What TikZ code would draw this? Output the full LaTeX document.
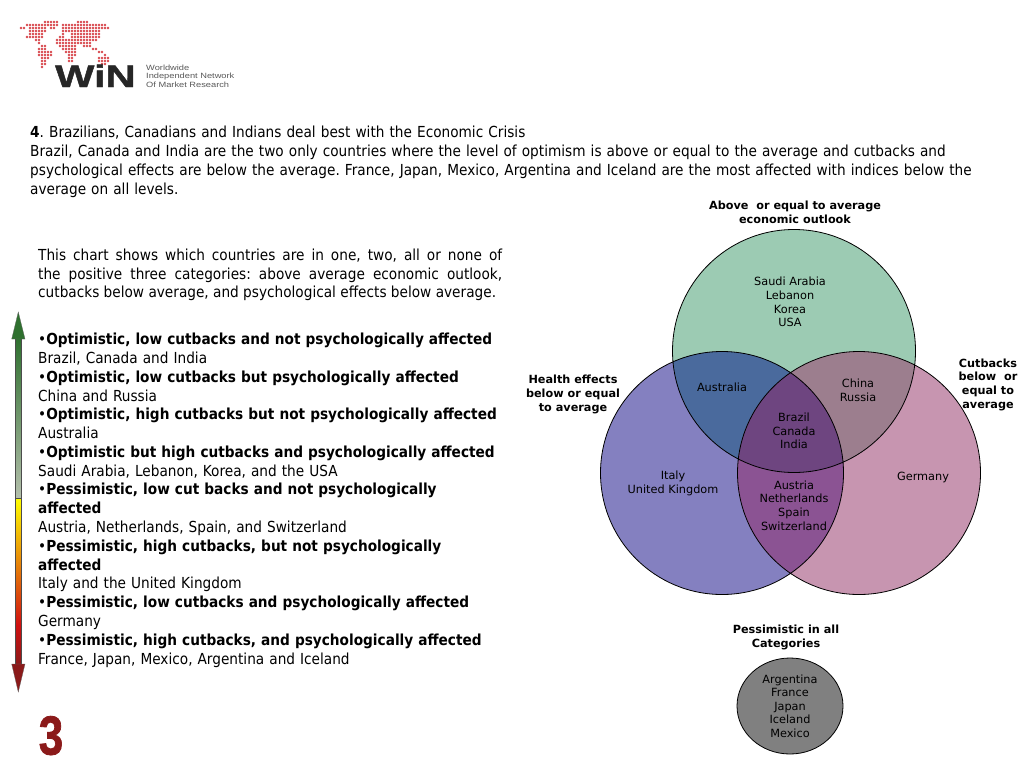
\documentclass[tikz,border=0pt]{standalone}
\usepackage{fontspec}
\setmainfont{DejaVu Sans Condensed}
\newfontfamily\verd{DejaVu Sans}
\newfontfamily\libfat[FakeBold=1.5]{Liberation Sans Bold}
\newfontfamily\libwide[FakeBold=1.5,FakeStretch=1.34]{Liberation Sans Bold}
\newfontfamily\libtxt[FakeStretch=1.22]{Liberation Sans}
\definecolor{cgreen}{HTML}{9CCBB3}
\definecolor{cblue}{HTML}{8480C0}
\definecolor{cpink}{HTML}{C795B0}
\definecolor{ctl}{HTML}{4A6A9D}
\definecolor{ctr}{HTML}{9C7E8E}
\definecolor{clr}{HTML}{8B5393}
\definecolor{cmid}{HTML}{6E4580}
\definecolor{dred}{HTML}{8B1A1A}
\definecolor{lred}{HTML}{D8464C}
\definecolor{agreen}{HTML}{2F702F}
\definecolor{agrey}{HTML}{B4C0AC}
\definecolor{ared}{HTML}{D01010}
\tikzset{
 venn/.style={font=\verd\fontsize{11.3}{13.6}\selectfont,align=center,text=black,inner sep=0},
 head/.style={font=\verd\bfseries\fontsize{11.25}{13.7}\selectfont,align=center,inner sep=0},
 para/.style={font=\frenchspacing\fontsize{15.2}{18.78}\selectfont,anchor=north west,inner sep=0,align=left},
}
\hyphenpenalty=10000
\begin{document}
\begin{tikzpicture}[x=1pt,y=-1pt]
\useasboundingbox (0,0) rectangle (1024,768);
\fill[white] (0,0) rectangle (1024,768);
% logo map
\foreach \y/\a/\b in {22/45/59,22/78/87,25/27/59,25/63/105,28/20/25,28/28/45,28/50/55,28/63/108,31/28/45,31/63/100,34/28/43,34/72/100,34/63/65,37/27/42,37/58/63,37/72/100,40/35/40,40/57/97,43/37/40,43/57/90,46/40/45,46/58/77,46/82/90,49/37/45,49/63/77,49/93/98,52/37/52,52/65/75,52/98/102,55/38/53,55/67/75,55/103/107,58/42/50,58/67/73,58/97/108,61/42/47,61/67/72,61/97/108,64/42/45,64/102/107,67/42/43}{
  \foreach \x in {\a,...,\b}{\pgfmathparse{int(mod(\x,3))}\ifnum\pgfmathresult=0\fill[lred] (\x,\y) circle (1.4);\fi}}
\node[inner sep=0,anchor=base west,font=\libwide\fontsize{31}{31}\selectfont,text=black!85] (win) at (55,87) {WiN};
\node[inner sep=0,anchor=north west,font=\libtxt\fontsize{7.6}{8.6}\selectfont,text=black!65,align=left] (wtxt) at (146,64.5) {Worldwide\\Independent Network\\Of Market Research};
% heading
\node[para,text width=945pt] (intro) at (30,126) {\textbf{4}. Brazilians, Canadians and Indians deal best with the Economic Crisis\\Brazil, Canada and India are the two only countries where the level of optimism is above or equal to the average and cutbacks and psychological effects are below the average. France, Japan, Mexico, Argentina and Iceland are the most affected with indices below the average on all levels.};
\node[para,text width=464pt,align=justify] (chart) at (38,248.5) {This chart shows which countries are in one, two, all or none of the positive three categories: above average economic outlook, cutbacks below average, and psychological effects below average.};
\node[para,text width=480pt] (list) at (38,333) {%
•\textbf{Optimistic, low cutbacks and not psychologically affected}\\Brazil, Canada and India\\
•\textbf{Optimistic, low cutbacks but psychologically affected}\\China and Russia\\
•\textbf{Optimistic, high cutbacks but not psychologically affected}\\Australia\\
•\textbf{Optimistic but high cutbacks and psychologically affected}\\Saudi Arabia, Lebanon, Korea, and the USA\\
•\textbf{Pessimistic, low cut backs and not psychologically}\\\textbf{affected}\\Austria, Netherlands, Spain, and Switzerland\\
•\textbf{Pessimistic, high cutbacks, but not psychologically}\\\textbf{affected}\\Italy and the United Kingdom\\
•\textbf{Pessimistic, low cutbacks and psychologically affected}\\Germany\\
•\textbf{Pessimistic, high cutbacks, and psychologically affected}\\France, Japan, Mexico, Argentina and Iceland};
% arrow
\shade[top color=agreen,bottom color=agrey] (15.5,338) rectangle (21,498);
\shade[top color=yellow,bottom color=ared] (15.5,498) rectangle (21,625);
\shade[top color=ared,bottom color=dred] (15.5,625) rectangle (21,665);
\draw[black!70,line width=.4] (15.5,338) -- (15.5,665) (21,338) -- (21,665) (15.5,498) -- (21,498);
\fill[agreen,draw=black!60,line width=.3] (18.3,312) -- (25,339) -- (11.7,339) -- cycle;
\fill[dred,draw=black!60,line width=.3] (18.3,692) -- (25,664) -- (11.7,664) -- cycle;
\node[inner sep=0,anchor=base,font=\libfat\fontsize{55}{55}\selectfont,text=dred,xscale=.8,transform shape] (page) at (51,754.5) {3};
% venn
\coordinate (T) at (794,351);\coordinate (L) at (722,473);\coordinate (R) at (859,473);
\def\rr{121.5}
\fill[cgreen] (T) circle (\rr);
\fill[cblue] (L) circle (\rr);
\fill[cpink] (R) circle (\rr);
\begin{scope}\clip (T) circle (\rr);\fill[ctl] (L) circle (\rr);\fill[ctr] (R) circle (\rr);\end{scope}
\begin{scope}\clip (L) circle (\rr);\fill[clr] (R) circle (\rr);\clip (R) circle (\rr);\fill[cmid] (T) circle (\rr);\end{scope}
\draw[black,line width=.8] (T) circle (\rr) (L) circle (\rr) (R) circle (\rr);
\node[venn] (n1) at (790,302) {Saudi Arabia\\Lebanon\\Korea\\USA};
\node[venn] (n2) at (722,387) {Australia};
\node[venn] (n3) at (858,390) {China\\Russia};
\node[venn] (n4) at (794,431) {Brazil\\Canada\\India};
\node[venn] (n5) at (673,483.5) {Italy\\United Kingdom};
\node[venn] (n6) at (794,505.5) {Austria\\Netherlands\\Spain\\Switzerland};
\node[venn] (n7) at (923,477) {Germany};
\node[head] (h1) at (795,212.5) {Above\ \ or equal to average\\economic outlook};
\node[head] (h2) at (573,394.5) {Health effects\\below or equal\\to average};
\node[head] (h3) at (988,384.5) {Cutbacks\\below\ \ or\\equal to\\average};
\node[head] (h4) at (786,637.5) {Pessimistic in all\\Categories};
\draw[black,fill=black!50,line width=.8] (790,706) ellipse (53 and 48);
\node[venn] (n8) at (790,706) {Argentina\\France\\Japan\\Iceland\\Mexico};
\end{tikzpicture}
\end{document}
